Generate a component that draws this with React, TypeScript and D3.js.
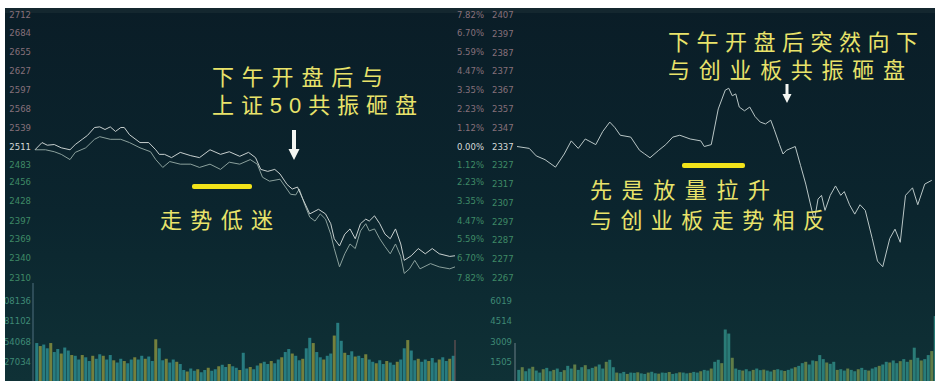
import React from 'react';
import * as d3 from 'd3';

const W = 935;
const H = 381;

// ---- tick labels ----
const leftPriceTicks = [2712, 2684, 2655, 2627, 2597, 2568, 2539, 2511, 2483, 2456, 2428, 2397, 2369, 2340, 2310];
const leftPctTicks = ['7.82%', '6.70%', '5.59%', '4.47%', '3.35%', '2.23%', '1.12%', '0.00%', '1.12%', '2.23%', '3.35%', '4.47%', '5.59%', '6.70%', '7.82%'];
const rightPriceTicks = [2407, 2397, 2387, 2377, 2367, 2357, 2347, 2337, 2327, 2317, 2307, 2297, 2287, 2277, 2267];
const leftVolTicks = [108136, 81102, 54068, 27034];
const rightVolTicks = [6019, 4514, 3009, 1505];

// ---- left panel: two index lines (minute, price) ----
const leftUpperTimes = [0, 4, 7, 11, 15, 20, 23, 27, 30, 34, 37, 40, 43, 46, 49, 51, 54, 60, 65, 69, 71, 74, 78, 83, 89, 94, 100, 106, 111, 117, 122, 126, 129, 133, 137, 140, 144, 147, 150, 153, 157, 162, 166, 169, 171, 174, 177, 180, 183, 186, 189, 191, 194, 197, 200, 203, 206, 209, 211, 215, 219, 223, 227, 231, 237, 240];
const leftUpperPrices = [2506, 2517, 2513, 2514, 2509, 2506, 2514, 2522, 2528, 2540, 2541, 2537, 2541, 2534, 2540, 2540, 2529, 2517, 2517, 2506, 2499, 2499, 2494, 2502, 2497, 2494, 2506, 2499, 2503, 2496, 2502, 2494, 2476, 2473, 2476, 2469, 2453, 2446, 2449, 2431, 2408, 2415, 2408, 2393, 2370, 2359, 2377, 2385, 2370, 2393, 2400, 2397, 2405, 2393, 2377, 2370, 2385, 2362, 2337, 2344, 2355, 2347, 2355, 2347, 2343, 2344];

const leftLowerTimes = [0, 6, 11, 15, 20, 23, 29, 34, 37, 43, 49, 54, 60, 66, 69, 73, 77, 83, 89, 94, 100, 106, 111, 117, 123, 127, 130, 134, 140, 146, 149, 151, 154, 157, 160, 163, 166, 169, 171, 174, 177, 180, 183, 186, 189, 191, 194, 197, 200, 203, 206, 209, 211, 214, 217, 220, 226, 231, 237, 240];
const leftLowerPrices = [2506, 2506, 2503, 2499, 2491, 2502, 2509, 2522, 2526, 2522, 2522, 2517, 2509, 2503, 2491, 2479, 2488, 2484, 2484, 2479, 2484, 2476, 2487, 2484, 2491, 2484, 2464, 2458, 2461, 2438, 2437, 2446, 2423, 2403, 2397, 2408, 2400, 2377, 2355, 2327, 2347, 2362, 2355, 2382, 2393, 2382, 2385, 2370, 2358, 2347, 2362, 2343, 2317, 2324, 2337, 2324, 2332, 2327, 2324, 2327];

// ---- right panel: one index line (minute, price) ----
const rightTimes = [0, 7, 11, 16, 22, 27, 31, 35, 39, 45, 49, 53, 56, 59, 65, 70, 73, 76, 81, 85, 89, 93, 99, 105, 107, 111, 115, 119, 121, 123, 125, 127, 130, 133, 136, 139, 142, 145, 147, 150, 152, 154, 159, 162, 165, 169, 170, 172, 174, 176, 179, 182, 185, 187, 190, 193, 196, 199, 203, 206, 209, 213, 216, 219, 222, 226, 229, 233, 237];
const rightPrices = [2337, 2336, 2332, 2330, 2326, 2333, 2340, 2336, 2341, 2338, 2345, 2350, 2347, 2343, 2342, 2335, 2333, 2331, 2335, 2338, 2342, 2343, 2341, 2340, 2337, 2338, 2357, 2367, 2368, 2364, 2365, 2358, 2356, 2358, 2353, 2350, 2349, 2351, 2346, 2338, 2333, 2335, 2337, 2327, 2317, 2301, 2298, 2309, 2311, 2303, 2311, 2316, 2311, 2313, 2306, 2301, 2306, 2303, 2288, 2276, 2273, 2288, 2293, 2286, 2311, 2315, 2306, 2317, 2319];

// ---- volumes (one bar per 2 minutes) ----
const leftVolumes = [
  52000, 48000, 50000, 45000, 52000, 40000,
  44000, 38000, 46000, 42000, 36000,
  35000, 30000, 36000, 33000, 28000, 35000, 31000, 37000,
  35000, 30000, 36000,
  29000, 26000, 31000, 28000, 25000, 30000,
  33000, 30000, 35000, 31000, 34000, 28000,
  57000, 45000,
  29000, 31000, 26000, 30000, 27000, 24000,
  16000, 14000, 18000, 15000, 17000, 13000, 16000, 19000, 15000, 17000, 21000,
  23000, 20000, 24000, 21000,
  19000, 16000, 39000, 18000, 20000, 17000, 22000, 25000,
  27000, 24000, 28000, 25000, 30000, 33000,
  40000, 44000, 38000, 35000,
  29000, 31000,
  45000, 59000, 52000, 40000,
  33000, 30000, 35000, 38000,
  62000, 79000, 55000,
  39000, 36000, 41000, 34000,
  35000, 32000, 37000, 30000,
  27000, 25000, 29000, 24000, 28000, 26000, 23000, 27000, 30000,
  45000, 56000, 42000,
  29000, 31000, 27000, 30000, 28000, 32000, 26000, 30000, 33000, 28000, 31000,
  35000,
];
const rightVolumes = [
  900, 1100, 800, 1000, 1130, 850, 700, 950, 1050, 800, 900, 1000, 750, 880,
  1200, 1000, 1300, 900, 1100, 1250, 950, 1050, 1150, 1300, 1000, 1500, 1650, 1100,
  700, 650, 750, 600, 700, 680, 720, 640, 600, 700, 760, 650, 620, 700, 680, 740, 600, 650, 720, 700, 640, 680, 750, 700, 800, 900, 850, 1000,
  1500, 1650, 1400, 3900, 3600, 1800,
  1000, 900, 850, 950, 800, 900, 1000, 880, 920, 850, 780, 900, 950, 870, 820, 900, 1000, 1100, 1200,
  1400, 1500, 1300, 1600, 1550, 2000, 1700, 1450, 1350, 1500,
  900, 950, 850, 1000, 900, 800, 950, 1050, 900, 850, 1000, 1100, 1200, 1300,
  1500, 1450, 1600, 1400, 1550, 1700, 1500, 1650, 2550, 1800, 1600, 1700, 2000, 2300, 4900,
];

// ---- annotations (blocks of lines) ----
const noteBlocks = [
  { x: 212, y: 85, gap: 28, lines: ['下午开盘后与', '上证50共振砸盘'], widths: [171, 205] },
  { x: 160, y: 228, gap: 28, lines: ['走势低迷'], widths: [113] },
  { x: 668, y: 50, gap: 28, lines: ['下午开盘后突然向下', '与创业板共振砸盘'], widths: [250, 237] },
  { x: 590, y: 198, gap: 30, lines: ['先是放量拉升', '与创业板走势相反'], widths: [180, 235] },
];

const CJK = '"Liberation Sans", "Noto Sans CJK SC", sans-serif';
const NUM = '"DejaVu Sans", "Liberation Sans", sans-serif';

function Arrow({ x, y0, y1, shaft, head }: { x: number; y0: number; y1: number; shaft: number; head: number }) {
  const hh = head;
  const d = `M${x - shaft / 2},${y0} L${x + shaft / 2},${y0} L${x + shaft / 2},${y1 - hh} L${x + head / 2},${y1 - hh} L${x},${y1} L${x - head / 2},${y1 - hh} L${x - shaft / 2},${y1 - hh} Z`;
  return <path d={d} fill="#f4f6f2" />;
}

export default function App() {
  const xL = d3.scaleLinear().domain([0, 240]).range([35, 455]);
  const xR = d3.scaleLinear().domain([0, 240]).range([517, 937]);
  const yL = d3.scaleLinear().domain([2310, 2712]).range([278, 15]);
  const yR = d3.scaleLinear().domain([2267, 2407]).range([278, 15]);
  const vL = d3.scaleLinear().domain([0, 108136]).range([382, 301]);
  const vR = d3.scaleLinear().domain([0, 6019]).range([382, 301]);

  const lineL = (times: number[], prices: number[]) =>
    d3.line<number>().x((_, i) => xL(times[i])).y((p) => yL(p))(prices) || '';
  const lineR = d3.line<number>().x((_, i) => xR(rightTimes[i])).y((p) => yR(p))(rightPrices) || '';

  const tickColor = (i: number, mid: number) => (i < mid ? '#86707a' : i === mid ? '#d6dad8' : '#3f8a66');

  return (
    <svg width={W} height={H} style={{ position: 'absolute', left: 0, top: 0, display: 'block' }}>
      <defs>
        <linearGradient id="bg" x1="0" y1="0" x2="0" y2="1">
          <stop offset="0" stopColor="#0a1d27" />
          <stop offset="0.55" stopColor="#0b252e" />
          <stop offset="1" stopColor="#0f3136" />
        </linearGradient>
      </defs>
      <rect x={0} y={0} width={W} height={H} fill="#ffffff" />
      <rect x={5} y={8} width={W - 5} height={H - 8} fill="url(#bg)" />
      <rect x={5} y={8} width={W - 5} height={5} fill="#1a2e36" opacity={0.6} />

      {/* volume bars */}
      {leftVolumes.map((v, i) => (
        <rect key={'lv' + i} x={xL(i * 2 + 1) - 1.5} y={vL(v)} width={3} height={382 - vL(v)}
          fill={i % 3 === 1 ? '#7f8a3e' : '#2b8588'} opacity={0.9} />
      ))}
      {rightVolumes.map((v, i) => (
        <rect key={'rv' + i} x={xR(i * 2 + 1) - 1.5} y={vR(v)} width={3} height={382 - vR(v)}
          fill={i % 3 === 1 ? '#6f8a4a' : '#2f8a84'} opacity={0.85} />
      ))}
      <line x1={33} x2={33} y1={283} y2={381} stroke="#4f6f7e" strokeWidth={1} />
      <line x1={455} x2={455} y1={340} y2={381} stroke="#7d5a5a" strokeWidth={1} />
      <line x1={515} x2={515} y1={343} y2={381} stroke="#6a7e86" strokeWidth={1} />

      {/* axis labels */}
      {leftPriceTicks.map((t, i) => (
        <text key={'lp' + i} x={31} y={yL(t) + 3} textAnchor="end" fontFamily={NUM} fontSize={8.5}
          fill={tickColor(i, 7)}>{t}</text>
      ))}
      {leftVolTicks.map((t, i) => (
        <text key={'lvt' + i} x={31} y={vL(t) + 3} textAnchor="end" fontFamily={NUM} fontSize={8.5}
          fill="#3f8a76">{t}</text>
      ))}
      {leftPctTicks.map((t, i) => (
        <text key={'pc' + i} x={457} y={yL(leftPriceTicks[i]) + 3} fontFamily={NUM} fontSize={8.5}
          fill={tickColor(i, 7)}>{t}</text>
      ))}
      {rightPriceTicks.map((t, i) => (
        <text key={'rp' + i} x={492} y={yR(t) + 3} fontFamily={NUM} fontSize={8.5}
          fill={tickColor(i, 7)}>{t}</text>
      ))}
      {rightVolTicks.map((t, i) => (
        <text key={'rvt' + i} x={512} y={vR(t) + 3} textAnchor="end" fontFamily={NUM} fontSize={8.5}
          fill="#3f8a76">{t}</text>
      ))}

      {/* price lines */}
      <path d={lineL(leftLowerTimes, leftLowerPrices)} fill="none" stroke="#8aa09c" strokeWidth={1} />
      <path d={lineL(leftUpperTimes, leftUpperPrices)} fill="none" stroke="#c8d0cf" strokeWidth={1} />
      <path d={lineR} fill="none" stroke="#b9c6c6" strokeWidth={1} />

      {/* markers */}
      <rect x={192} y={184} width={60} height={5} rx={2} fill="#f3e31a" />
      <rect x={682} y={163} width={63} height={5} rx={2} fill="#f3e31a" />
      <Arrow x={294} y0={130} y1={160} shaft={4} head={11} />
      <Arrow x={787} y0={84} y1={103} shaft={3} head={9} />

      {noteBlocks.map((b, bi) => (
        <text key={'nb' + bi} fontFamily={CJK} fontSize={22} fill="#e9e36a">
          {b.lines.map((ln, li) => (
            <tspan key={li} x={b.x} y={b.y + li * b.gap} textLength={b.widths[li]} lengthAdjust="spacing">{ln}</tspan>
          ))}
        </text>
      ))}

      {/* white scan border on top */}
      <rect x={0} y={0} width={5} height={H} fill="#ffffff" />
      <rect x={0} y={0} width={W} height={8} fill="#ffffff" />
    </svg>
  );
}
